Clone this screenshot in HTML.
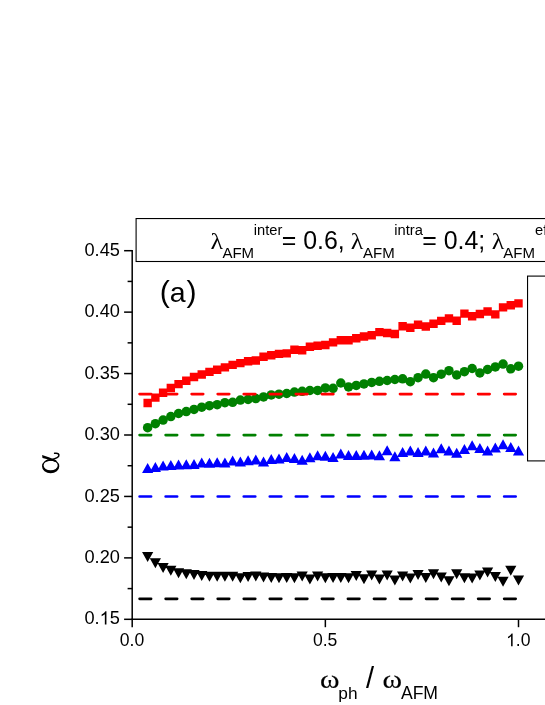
<!DOCTYPE html>
<html><head><meta charset="utf-8"><title>chart</title>
<style>html,body{margin:0;padding:0;background:#fff;overflow:hidden}svg{display:block;position:absolute;left:0;top:0}</style>
</head><body>
<svg width="545" height="705" viewBox="0 0 545 705" style="will-change:transform">
<rect width="545" height="705" fill="#fff"/>
<path fill="#000" d="M142.05 552.00h11.2l-5.6 10.0zM149.78 558.30h11.2l-5.6 10.0zM157.50 563.00h11.2l-5.6 10.0zM165.23 565.70h11.2l-5.6 10.0zM172.95 568.20h11.2l-5.6 10.0zM180.68 569.20h11.2l-5.6 10.0zM188.41 570.10h11.2l-5.6 10.0zM196.13 571.10h11.2l-5.6 10.0zM203.86 571.80h11.2l-5.6 10.0zM211.58 571.70h11.2l-5.6 10.0zM219.31 571.70h11.2l-5.6 10.0zM227.04 571.70h11.2l-5.6 10.0zM234.76 573.30h11.2l-5.6 10.0zM242.49 572.10h11.2l-5.6 10.0zM250.21 571.40h11.2l-5.6 10.0zM257.94 572.40h11.2l-5.6 10.0zM265.67 572.90h11.2l-5.6 10.0zM273.39 573.30h11.2l-5.6 10.0zM281.12 572.90h11.2l-5.6 10.0zM288.84 573.20h11.2l-5.6 10.0zM296.57 571.40h11.2l-5.6 10.0zM304.30 574.60h11.2l-5.6 10.0zM312.02 571.40h11.2l-5.6 10.0zM319.75 573.20h11.2l-5.6 10.0zM327.47 572.90h11.2l-5.6 10.0zM335.20 572.90h11.2l-5.6 10.0zM342.93 573.20h11.2l-5.6 10.0zM350.65 571.10h11.2l-5.6 10.0zM358.38 574.30h11.2l-5.6 10.0zM366.10 570.40h11.2l-5.6 10.0zM373.83 574.60h11.2l-5.6 10.0zM381.56 570.40h11.2l-5.6 10.0zM389.28 575.40h11.2l-5.6 10.0zM397.01 571.40h11.2l-5.6 10.0zM404.73 573.60h11.2l-5.6 10.0zM412.46 569.90h11.2l-5.6 10.0zM420.19 572.90h11.2l-5.6 10.0zM427.91 569.20h11.2l-5.6 10.0zM435.64 572.60h11.2l-5.6 10.0zM443.36 576.20h11.2l-5.6 10.0zM451.09 569.30h11.2l-5.6 10.0zM458.82 573.30h11.2l-5.6 10.0zM466.54 573.60h11.2l-5.6 10.0zM474.27 570.40h11.2l-5.6 10.0zM481.99 567.40h11.2l-5.6 10.0zM489.72 572.10h11.2l-5.6 10.0zM497.45 576.70h11.2l-5.6 10.0zM505.17 565.70h11.2l-5.6 10.0zM512.90 575.50h11.2l-5.6 10.0z"/>
<path fill="#0000ff" d="M147.65 463.00l5.6 10.0h-11.2zM155.38 462.10l5.6 10.0h-11.2zM163.10 460.60l5.6 10.0h-11.2zM170.83 459.90l5.6 10.0h-11.2zM178.55 459.40l5.6 10.0h-11.2zM186.28 459.20l5.6 10.0h-11.2zM194.01 458.90l5.6 10.0h-11.2zM201.73 457.40l5.6 10.0h-11.2zM209.46 457.70l5.6 10.0h-11.2zM217.18 457.20l5.6 10.0h-11.2zM224.91 457.40l5.6 10.0h-11.2zM232.64 455.50l5.6 10.0h-11.2zM240.36 456.50l5.6 10.0h-11.2zM248.09 455.20l5.6 10.0h-11.2zM255.81 454.40l5.6 10.0h-11.2zM263.54 456.60l5.6 10.0h-11.2zM271.27 454.00l5.6 10.0h-11.2zM278.99 453.60l5.6 10.0h-11.2zM286.72 452.10l5.6 10.0h-11.2zM294.44 453.00l5.6 10.0h-11.2zM302.17 454.70l5.6 10.0h-11.2zM309.90 452.20l5.6 10.0h-11.2zM317.62 450.30l5.6 10.0h-11.2zM325.35 450.80l5.6 10.0h-11.2zM333.07 452.10l5.6 10.0h-11.2zM340.80 448.60l5.6 10.0h-11.2zM348.53 450.00l5.6 10.0h-11.2zM356.25 449.90l5.6 10.0h-11.2zM363.98 449.70l5.6 10.0h-11.2zM371.70 449.60l5.6 10.0h-11.2zM379.43 450.20l5.6 10.0h-11.2zM387.16 445.20l5.6 10.0h-11.2zM394.88 451.30l5.6 10.0h-11.2zM402.61 446.90l5.6 10.0h-11.2zM410.33 445.50l5.6 10.0h-11.2zM418.06 446.90l5.6 10.0h-11.2zM425.79 445.50l5.6 10.0h-11.2zM433.51 447.40l5.6 10.0h-11.2zM441.24 443.30l5.6 10.0h-11.2zM448.96 445.50l5.6 10.0h-11.2zM456.69 447.70l5.6 10.0h-11.2zM464.42 444.00l5.6 10.0h-11.2zM472.14 440.30l5.6 10.0h-11.2zM479.87 443.00l5.6 10.0h-11.2zM487.59 445.50l5.6 10.0h-11.2zM495.32 442.50l5.6 10.0h-11.2zM503.05 439.30l5.6 10.0h-11.2zM510.77 442.10l5.6 10.0h-11.2zM518.50 445.50l5.6 10.0h-11.2z"/>
<g fill="#008000"><circle cx="147.65" cy="427.70" r="4.75"/><circle cx="155.38" cy="423.70" r="4.75"/><circle cx="163.10" cy="420.10" r="4.75"/><circle cx="170.83" cy="416.60" r="4.75"/><circle cx="178.55" cy="413.50" r="4.75"/><circle cx="186.28" cy="411.60" r="4.75"/><circle cx="194.01" cy="409.40" r="4.75"/><circle cx="201.73" cy="407.20" r="4.75"/><circle cx="209.46" cy="405.70" r="4.75"/><circle cx="217.18" cy="404.70" r="4.75"/><circle cx="224.91" cy="402.70" r="4.75"/><circle cx="232.64" cy="402.30" r="4.75"/><circle cx="240.36" cy="400.10" r="4.75"/><circle cx="248.09" cy="399.40" r="4.75"/><circle cx="255.81" cy="398.60" r="4.75"/><circle cx="263.54" cy="396.90" r="4.75"/><circle cx="271.27" cy="394.90" r="4.75"/><circle cx="278.99" cy="394.20" r="4.75"/><circle cx="286.72" cy="393.50" r="4.75"/><circle cx="294.44" cy="392.10" r="4.75"/><circle cx="302.17" cy="391.30" r="4.75"/><circle cx="309.90" cy="390.50" r="4.75"/><circle cx="317.62" cy="390.40" r="4.75"/><circle cx="325.35" cy="387.90" r="4.75"/><circle cx="333.07" cy="388.30" r="4.75"/><circle cx="340.80" cy="383.00" r="4.75"/><circle cx="348.53" cy="386.90" r="4.75"/><circle cx="356.25" cy="385.40" r="4.75"/><circle cx="363.98" cy="383.90" r="4.75"/><circle cx="371.70" cy="382.40" r="4.75"/><circle cx="379.43" cy="381.30" r="4.75"/><circle cx="387.16" cy="380.50" r="4.75"/><circle cx="394.88" cy="379.50" r="4.75"/><circle cx="402.61" cy="378.80" r="4.75"/><circle cx="410.33" cy="381.70" r="4.75"/><circle cx="418.06" cy="377.70" r="4.75"/><circle cx="425.79" cy="374.10" r="4.75"/><circle cx="433.51" cy="377.70" r="4.75"/><circle cx="441.24" cy="374.20" r="4.75"/><circle cx="448.96" cy="370.70" r="4.75"/><circle cx="456.69" cy="375.00" r="4.75"/><circle cx="464.42" cy="371.70" r="4.75"/><circle cx="472.14" cy="368.50" r="4.75"/><circle cx="479.87" cy="372.90" r="4.75"/><circle cx="487.59" cy="369.50" r="4.75"/><circle cx="495.32" cy="366.90" r="4.75"/><circle cx="503.05" cy="364.10" r="4.75"/><circle cx="510.77" cy="368.80" r="4.75"/><circle cx="518.50" cy="366.20" r="4.75"/></g>
<path fill="#ff0000" d="M143.45 398.80h8.4v8.4h-8.4zM151.18 393.40h8.4v8.4h-8.4zM158.90 388.50h8.4v8.4h-8.4zM166.63 383.80h8.4v8.4h-8.4zM174.35 379.90h8.4v8.4h-8.4zM182.08 376.50h8.4v8.4h-8.4zM189.81 372.80h8.4v8.4h-8.4zM197.53 370.30h8.4v8.4h-8.4zM205.26 367.70h8.4v8.4h-8.4zM212.98 365.50h8.4v8.4h-8.4zM220.71 363.20h8.4v8.4h-8.4zM228.44 360.70h8.4v8.4h-8.4zM236.16 358.90h8.4v8.4h-8.4zM243.89 357.00h8.4v8.4h-8.4zM251.61 356.30h8.4v8.4h-8.4zM259.34 352.60h8.4v8.4h-8.4zM267.07 351.10h8.4v8.4h-8.4zM274.79 349.70h8.4v8.4h-8.4zM282.52 349.20h8.4v8.4h-8.4zM290.24 345.60h8.4v8.4h-8.4zM297.97 346.00h8.4v8.4h-8.4zM305.70 342.60h8.4v8.4h-8.4zM313.42 341.60h8.4v8.4h-8.4zM321.15 340.80h8.4v8.4h-8.4zM328.87 338.20h8.4v8.4h-8.4zM336.60 336.00h8.4v8.4h-8.4zM344.33 336.00h8.4v8.4h-8.4zM352.05 334.10h8.4v8.4h-8.4zM359.78 332.30h8.4v8.4h-8.4zM367.50 331.00h8.4v8.4h-8.4zM375.23 327.90h8.4v8.4h-8.4zM382.96 328.80h8.4v8.4h-8.4zM390.68 329.80h8.4v8.4h-8.4zM398.41 322.00h8.4v8.4h-8.4zM406.13 323.60h8.4v8.4h-8.4zM413.86 320.60h8.4v8.4h-8.4zM421.59 322.30h8.4v8.4h-8.4zM429.31 319.50h8.4v8.4h-8.4zM437.04 316.70h8.4v8.4h-8.4zM444.76 314.20h8.4v8.4h-8.4zM452.49 316.50h8.4v8.4h-8.4zM460.22 309.40h8.4v8.4h-8.4zM467.94 312.00h8.4v8.4h-8.4zM475.67 309.80h8.4v8.4h-8.4zM483.39 307.30h8.4v8.4h-8.4zM491.12 310.20h8.4v8.4h-8.4zM498.85 303.20h8.4v8.4h-8.4zM506.57 301.00h8.4v8.4h-8.4zM514.30 299.20h8.4v8.4h-8.4z"/>
<line x1="139.6" y1="394.1" x2="518.2" y2="394.1" stroke="#ff0000" stroke-width="2.7" stroke-linecap="round" stroke-dasharray="11.5 14.54"/>
<line x1="139.6" y1="435.1" x2="518.2" y2="435.1" stroke="#008000" stroke-width="2.7" stroke-linecap="round" stroke-dasharray="11.5 14.54"/>
<line x1="139.6" y1="496.5" x2="518.2" y2="496.5" stroke="#0000ff" stroke-width="2.7" stroke-linecap="round" stroke-dasharray="11.5 14.54"/>
<line x1="139.6" y1="598.8" x2="518.2" y2="598.8" stroke="#000000" stroke-width="2.7" stroke-linecap="round" stroke-dasharray="11.5 14.54"/>
<g stroke="#000" stroke-width="1.5" fill="none"><line x1="132.2" y1="250" x2="132.2" y2="619.9" /><line x1="131.5" y1="619.2" x2="545" y2="619.2" /><line x1="124.1" y1="250.70" x2="132.2" y2="250.70"/><line x1="127.6" y1="281.42" x2="132.2" y2="281.42"/><line x1="124.1" y1="312.13" x2="132.2" y2="312.13"/><line x1="127.6" y1="342.85" x2="132.2" y2="342.85"/><line x1="124.1" y1="373.57" x2="132.2" y2="373.57"/><line x1="127.6" y1="404.29" x2="132.2" y2="404.29"/><line x1="124.1" y1="435.00" x2="132.2" y2="435.00"/><line x1="127.6" y1="465.72" x2="132.2" y2="465.72"/><line x1="124.1" y1="496.44" x2="132.2" y2="496.44"/><line x1="127.6" y1="527.16" x2="132.2" y2="527.16"/><line x1="124.1" y1="557.88" x2="132.2" y2="557.88"/><line x1="127.6" y1="588.59" x2="132.2" y2="588.59"/><line x1="124.1" y1="619.31" x2="132.2" y2="619.31"/><line x1="132.2" y1="619.2" x2="132.2" y2="627.2"/><line x1="325.35" y1="619.2" x2="325.35" y2="627.2"/><line x1="518.5" y1="619.2" x2="518.5" y2="627.2"/></g>
<rect x="136.1" y="218.55" width="430" height="42.95" fill="#fff" stroke="#000" stroke-width="1.1"/>
<rect x="527.55" y="276.1" width="40" height="184.8" fill="#fff" stroke="#000" stroke-width="1.1"/>
<g font-family="Liberation Sans, sans-serif" fill="#000"><text x="84.48" y="255.80" font-size="18.2">0.45</text><text x="84.48" y="317.24" font-size="18.2">0.40</text><text x="84.48" y="378.67" font-size="18.2">0.35</text><text x="84.48" y="440.11" font-size="18.2">0.30</text><text x="84.48" y="501.54" font-size="18.2">0.25</text><text x="84.48" y="562.98" font-size="18.2">0.20</text><text x="84.48" y="624.41" font-size="18.2">0.</text><path transform="translate(99.66 624.41) scale(0.008887 -0.008887)" d="M763 0H583V1147Q518 1085 412.5 1023Q307 961 223 930V1104Q374 1175 487 1276Q600 1377 647 1472H763Z"/><text x="109.78" y="624.41" font-size="18.2">5</text><text x="119.77" y="646.20" font-size="17.6">0.0</text><text x="312.92" y="646.20" font-size="17.6">0.5</text><path transform="translate(506.07 646.20) scale(0.008594 -0.008594)" d="M763 0H583V1147Q518 1085 412.5 1023Q307 961 223 930V1104Q374 1175 487 1276Q600 1377 647 1472H763Z"/><text x="515.85" y="646.20" font-size="17.6">.0</text></g>
<g font-family="Liberation Sans, sans-serif" fill="#000"><text x="159.7" y="301.5" font-size="30.3">(</text><text x="169.7" y="301.5" font-size="28.5">a</text><text x="186.6" y="301.5" font-size="30.3">)</text></g>
<g fill="#000"><text transform="translate(210.5 249) scale(1.08 1)" font-family="Liberation Serif, serif" font-size="24">λ</text><text x="222.4" y="257.6" font-family="Liberation Sans, sans-serif" font-size="15.0">AFM</text><text x="253.8" y="234.9" font-family="Liberation Sans, sans-serif" font-size="14.7">inter</text><text x="281.8" y="249" font-family="Liberation Sans, sans-serif" font-size="24.9" xml:space="preserve">= 0.6, </text><text transform="translate(350.8 249) scale(1.08 1)" font-family="Liberation Serif, serif" font-size="24">λ</text><text x="363.0" y="257.6" font-family="Liberation Sans, sans-serif" font-size="15.0">AFM</text><text x="394.3" y="234.9" font-family="Liberation Sans, sans-serif" font-size="14.7">intra</text><text x="422.3" y="249" font-family="Liberation Sans, sans-serif" font-size="24.9" xml:space="preserve">= 0.4; </text><text transform="translate(491.7 249) scale(1.08 1)" font-family="Liberation Serif, serif" font-size="24">λ</text><text x="503.3" y="257.6" font-family="Liberation Sans, sans-serif" font-size="15.0">AFM</text><text x="535.0" y="234.9" font-family="Liberation Sans, sans-serif" font-size="14.7">eff</text></g>
<g fill="#000"><text transform="translate(320.0 687.5) scale(1.14 1.0)" font-family="Liberation Serif, serif" font-size="26" stroke="#000" stroke-width="0.15">ω</text><text x="338.3" y="698.6" font-family="Liberation Sans, sans-serif" font-size="17.3">ph</text><text x="366.1" y="687.9" font-family="Liberation Sans, sans-serif" font-size="29">/</text><text transform="translate(382.6 687.5) scale(1.14 1.0)" font-family="Liberation Serif, serif" font-size="26" stroke="#000" stroke-width="0.15">ω</text><text x="400.9" y="698.6" font-family="Liberation Sans, sans-serif" font-size="17.6">AFM</text></g>
<g fill="#000" stroke="none"><path fill-rule="evenodd" d="M42 466.2a8.65 7.1 0 1 0 17.3 0a8.65 7.1 0 1 0 -17.3 0zM43.6 465.5a7.05 4.85 0 1 0 14.1 0a7.05 4.85 0 1 0 -14.1 0z"/><path d="M42.1 454.9L42.5 458.1L48.5 459.6L55.5 461.9L56.6 460.6L49.5 457.4z"/></g><path d="M54.6 453.3C58.2 452.6 59.6 454.6 58.6 456.4C57.6 458.2 53 459.6 46.5 460.8" fill="none" stroke="#000" stroke-width="1.5" stroke-linecap="round"/>
</svg>
</body></html>
